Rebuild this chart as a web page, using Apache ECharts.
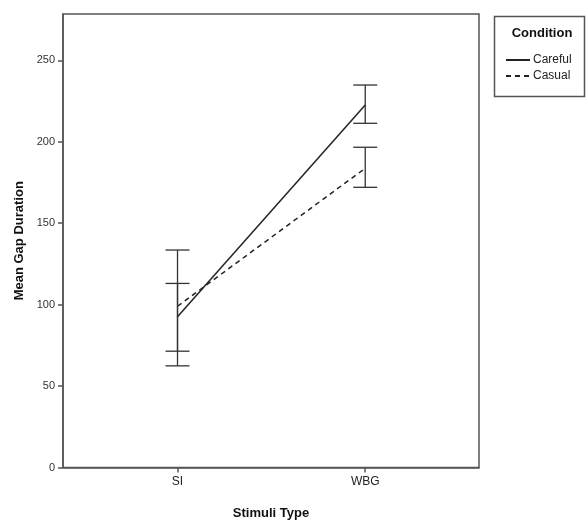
<!DOCTYPE html>
<html><head><meta charset="utf-8">
<script src="https://cdn.jsdelivr.net/npm/echarts@6/dist/echarts.min.js"></script>
<style>html,body{margin:0;padding:0;background:#fff}#c{width:586px;height:522px}</style>
</head><body><div id="c"></div>
<script>
const categories = ['SI', 'WBG'];
const conditions = ['Careful', 'Casual'];
const carefulMean = [92.5, 222.5];
const casualMean = [99.0, 183.7];
const carefulLow = [71.4, 211.3];
const carefulHigh = [113.0, 234.8];
const casualLow = [62.4, 172.0];
const casualHigh = [133.5, 196.6];
const yTicks = [0, 50, 100, 150, 200, 250];
const xTicks = [0, 1];

const FONT = 'Liberation Sans, Arial, sans-serif';
const chart = echarts.init(document.getElementById('c'), null, {renderer: 'canvas'});

function errData(low, high) {
  return categories.map((c, i) => [i, low[i], high[i]]);
}
function renderErr(params, api) {
  const x = api.value(0);
  const lo = api.coord([x, api.value(1)]);
  const hi = api.coord([x, api.value(2)]);
  const hw = 12;
  const style = {stroke: '#333', lineWidth: 1.3, fill: null};
  return {
    type: 'group',
    children: [
      {type: 'line', shape: {x1: lo[0], y1: lo[1], x2: hi[0], y2: hi[1]}, style: style},
      {type: 'line', shape: {x1: lo[0] - hw, y1: lo[1], x2: lo[0] + hw, y2: lo[1]}, style: style},
      {type: 'line', shape: {x1: hi[0] - hw, y1: hi[1], x2: hi[0] + hw, y2: hi[1]}, style: style}
    ]
  };
}

chart.setOption({
  animation: false,
  textStyle: {fontFamily: FONT},
  grid: {left: 63, right: 107, top: 14, bottom: 54.5, show: true, borderColor: '#555', borderWidth: 1.5,
         containLabel: false, outerBoundsMode: 'none'},
  xAxis: {
    type: 'value', min: -0.61, max: 1.606,
    name: 'Stimuli Type', nameLocation: 'middle', nameGap: 39,
    nameTextStyle: {fontFamily: FONT, fontWeight: 'bold', fontSize: 13, color: '#111'},
    axisLine: {show: true, onZero: false, lineStyle: {color: '#555', width: 1.5}},
    axisTick: {show: true, length: 5, customValues: xTicks, lineStyle: {color: '#555', width: 1.5}},
    axisLabel: {customValues: xTicks, formatter: v => categories[Math.round(v)] || '', color: '#222', fontSize: 12, margin: 8, fontFamily: FONT},
    splitLine: {show: false}
  },
  yAxis: {
    type: 'value', min: 0, max: 278.4,
    name: 'Mean Gap Duration', nameLocation: 'middle', nameGap: 37,
    nameTextStyle: {fontFamily: FONT, fontWeight: 'bold', fontSize: 13, color: '#111'},
    axisLine: {show: true, onZero: false, lineStyle: {color: '#555', width: 1.5}},
    axisTick: {show: true, length: 5, customValues: yTicks, lineStyle: {color: '#555', width: 1.5}},
    axisLabel: {customValues: yTicks, color: '#333', fontSize: 11, margin: 8, fontFamily: FONT},
    splitLine: {show: false}
  },
  title: {
    text: 'Condition', left: 537, top: 22, textAlign: 'center',
    textStyle: {fontFamily: FONT, fontWeight: 'bold', fontSize: 13, color: '#111'}
  },
  legend: {
    orient: 'vertical', left: 500, top: 49, itemGap: 4, itemWidth: 24, itemHeight: 10,
    data: conditions,
    itemStyle: {opacity: 0, borderWidth: 0},
    textStyle: {fontFamily: FONT, fontSize: 12, color: '#222', padding: [0, 0, 0, -2]}
  },
  graphic: [{
    type: 'rect', left: 492, top: 14, shape: {width: 90, height: 80},
    style: {fill: 'none', stroke: '#555', lineWidth: 1.5}
  }],
  series: [
    {name: conditions[0], type: 'line', data: categories.map((c, i) => [i, carefulMean[i]]),
     symbol: 'none', lineStyle: {color: '#222', width: 1.5, type: 'solid'}, itemStyle: {color: '#222'}},
    {name: conditions[1], type: 'line', data: categories.map((c, i) => [i, casualMean[i]]),
     symbol: 'none', lineStyle: {color: '#222', width: 1.5, type: [5, 4]}, itemStyle: {color: '#222'}},
    {type: 'custom', renderItem: renderErr, data: errData(carefulLow, carefulHigh), silent: true},
    {type: 'custom', renderItem: renderErr, data: errData(casualLow, casualHigh), silent: true}
  ]
});
</script></body></html>
